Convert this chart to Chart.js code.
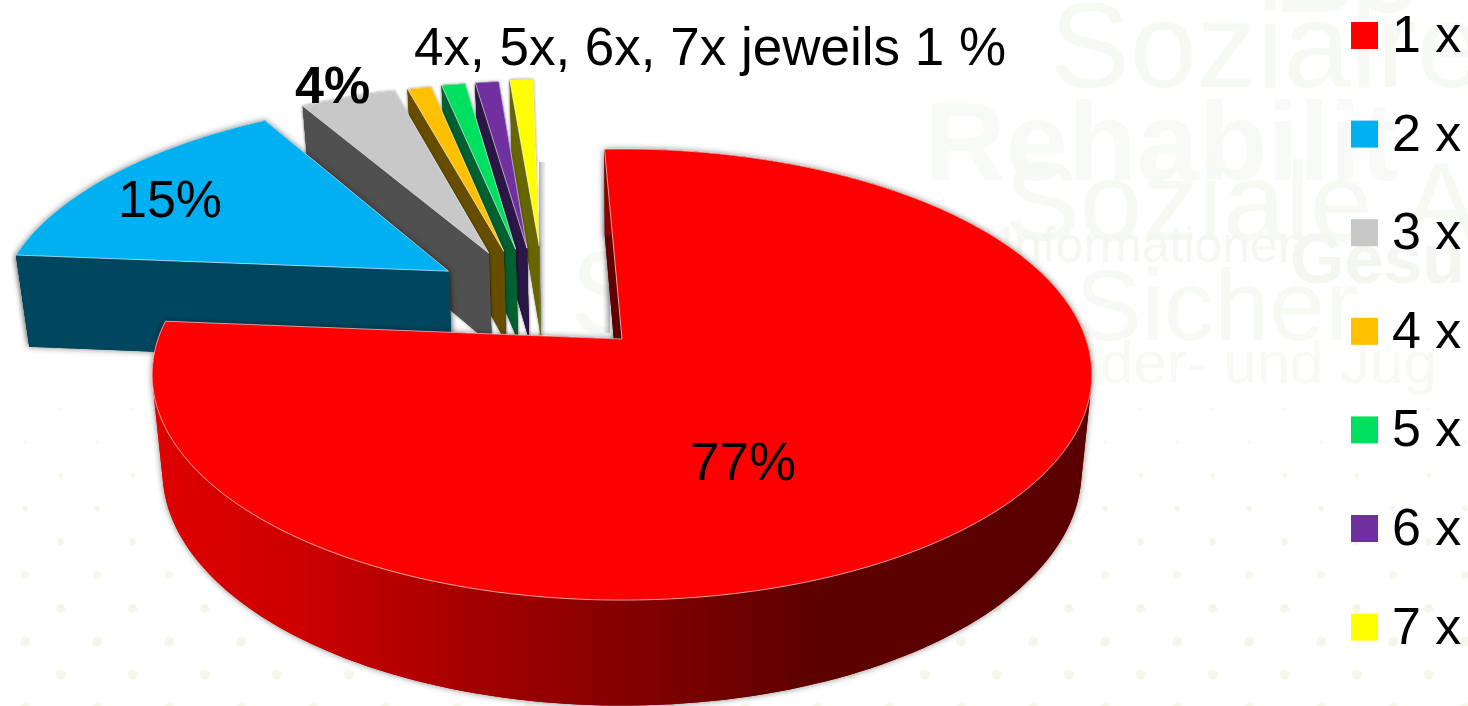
<!DOCTYPE html>
<html>
<head>
<meta charset="utf-8">
<title>Anzahl</title>
<script src="https://cdn.jsdelivr.net/npm/chart.js@4/dist/chart.umd.min.js"></script>
<style>
    html,body{margin:0;padding:0;background:#fff;overflow:hidden;}
    canvas{display:block;}
</style>
</head>
<body>
<canvas id="pieChart" width="1468" height="706"></canvas>
<script>
// Datos
const categories=['1 x','2 x','3 x','4 x','5 x','6 x','7 x'];
const percents=[77,15,4,1,1,1,1];
const note='4x, 5x, 6x, 7x jeweils 1 %';

// Colores de cara superior y pared lateral
const topColors=['#ff0000','#00b0f0','#c8c8c8','#ffc000','#00e060','#7030a0','#ffff00'];
const wallColors=['#600000','#00465f','#505050','#664d00','#00602f','#2a1746','#666600'];

// Geometria de la proyeccion
const CX=622,CY=339,RX=464,RY=220,K=0.1575;
const ROTATION=-2.5;
// Desplazamiento de cada porcion sobre el disco (unidades de radio)
const shifts=[[0,0],[-0.393,-0.324],[-0.306,-0.416],[-0.272,-0.426],[-0.245,-0.4365],[-0.219,-0.4415],[-0.191,-0.452]];

const project=(u,v)=>{
    const d=1-K*v;
    return [CX+RX*u/d,CY+RY*v/d];
};
const extrude=(p)=>[p[0]+(CX-p[0])*0.022,p[1]+95+0.04*(p[1]-CY)];

function addPolygon(ctx,points)
{
    points.forEach((p,i)=>{
        if(i===0) ctx.moveTo(p[0],p[1]);
        else ctx.lineTo(p[0],p[1]);
    });
    ctx.closePath();
}

function tracePath(ctx,points)
{
    ctx.beginPath();
    addPolygon(ctx,points);
}

// Pared exterior como tiras con la misma orientacion, para que el relleno no deje huecos
function traceBand(ctx,outer)
{
    ctx.beginPath();
    for(let i=0;i<outer.length-1;i++)
    {
        const a=outer[i],b=outer[i+1],c=extrude(b),d=extrude(a);
        const area=(b[0]-a[0])*(c[1]-a[1])-(b[1]-a[1])*(c[0]-a[0]);
        addPolygon(ctx,area>0?[a,b,c,d]:[d,c,b,a]);
    }
}

function arcPoints(arc,shift)
{
    const steps=Math.max(6,Math.ceil((arc.endAngle-arc.startAngle)*40));
    const out=[];
    for(let i=0;i<=steps;i++)
    {
        const a=arc.startAngle+(arc.endAngle-arc.startAngle)*i/steps;
        out.push(project(shift[0]+Math.cos(a),shift[1]+Math.sin(a)));
    }
    return out;
}

// Fondo: puntos y texto de marca de agua
function drawBackground(ctx)
{
    ctx.save();
    ctx.fillStyle='#f5f7e8';
    let row=0;
    for(let y=409;y<720;y+=33.2)
    {
        const start=(row%2===0)?60.7:25;
        const r=Math.min(5,1.2+(y-409)*0.016);
        for(let x=start;x<1468;x+=72)
        {
            ctx.beginPath();
            ctx.arc(x,y,r,0,Math.PI*2);
            ctx.fill();
        }
        row++;
    }
    const marks=[
        ['Sozialre','120px',1050,87,'normal','#f6f9f4'],
        ['Be','112px',1275,12,'bold','#f6f9f4'],
        ['Rehabilit','112px',925,180,'bold','#f8faf7'],
        ['Soziale A','112px',1005,240,'normal','#f6f9f4'],
        ['Informationen','50px',1000,262,'normal','#f5f7f3'],
        ['Gesu','70px',1290,283,'bold','#f4f6f2'],
        ['Sicher','100px',1075,340,'normal','#f6f9f4'],
        ['S','120px',570,335,'normal','#f6f9f4'],
        ['der- und Jug','60px',1100,383,'normal','#f6f9f4']
    ];
    ctx.textBaseline='alphabetic';
    marks.forEach(m=>{
        ctx.fillStyle=m[5];
        ctx.font=m[4]+' '+m[1]+' "Liberation Sans"';
        ctx.fillText(m[0],m[2],m[3]);
    });
    ctx.restore();
}

function softEdge(ctx,x,y,w,h,dark)
{
    const g=ctx.createLinearGradient(x,0,x+w,0);
    g.addColorStop(0,dark?'rgba(120,120,120,0)':'rgba(120,120,120,0.55)');
    g.addColorStop(1,dark?'rgba(120,120,120,0.45)':'rgba(120,120,120,0)');
    ctx.fillStyle=g;
    ctx.fillRect(x,y,w,h);
}

function redSideFill(ctx)
{
    const g=ctx.createLinearGradient(150,0,1090,0);
    g.addColorStop(0,'#e00000');
    g.addColorStop(0.16,'#cc0000');
    g.addColorStop(0.36,'#a00000');
    g.addColorStop(0.5,'#860000');
    g.addColorStop(0.7,'#5e0000');
    g.addColorStop(1,'#5a0000');
    return g;
}

function drawSlice(ctx,arc,i)
{
    const shift=shifts[i];
    const outer=arcPoints(arc,shift);
    const tip=project(shift[0],shift[1]);
    const first=outer[0],last=outer[outer.length-1];
    const sideFill=i===0?redSideFill(ctx):wallColors[i];

    const paintWalls=()=>{
        ctx.fillStyle=wallColors[i];
        tracePath(ctx,[tip,first,extrude(first),extrude(tip)]);
        ctx.fill();
        tracePath(ctx,[tip,last,extrude(last),extrude(tip)]);
        ctx.fill();
        ctx.fillStyle=sideFill;
        traceBand(ctx,outer);
        ctx.fill();
    };

    // Primero la silueta con sombra, luego las paredes limpias encima
    ctx.save();
    ctx.shadowColor='rgba(0,0,0,0.5)';
    ctx.shadowBlur=i<2?6:3;
    paintWalls();
    ctx.restore();
    paintWalls();

    // Cara superior
    ctx.fillStyle=topColors[i];
    tracePath(ctx,[tip].concat(outer));
    ctx.fill();
    ctx.strokeStyle='rgba(255,255,255,0.6)';
    ctx.lineWidth=1;
    ctx.stroke();
}

const pie3d={
    id:'pie3d',
    beforeDraw(chart)
    {
        drawBackground(chart.ctx);
    },
    beforeDatasetDraw(chart)
    {
        const ctx=chart.ctx;
        const arcs=chart.getDatasetMeta(0).data;
        // de atras hacia adelante; la porcion grande va al final
        for(let i=arcs.length-1;i>=1;i--)
        {
            drawSlice(ctx,arcs[i],i);
        }
        softEdge(ctx,539,162,7,173,false);
        softEdge(ctx,603,233,7,100,true);
        drawSlice(ctx,arcs[0],0);
        return false;
    },
    afterDraw(chart)
    {
        const ctx=chart.ctx;
        ctx.save();
        ctx.fillStyle='#000';
        ctx.textBaseline='alphabetic';
        ctx.textAlign='left';

        // Etiquetas de valor
        ctx.font='53px "Liberation Sans"';
        ctx.fillText(percents[0]+'%',690,480);
        ctx.font='52px "Liberation Sans"';
        ctx.fillText(percents[1]+'%',118,217);
        ctx.font='bold 52px "Liberation Sans"';
        ctx.fillText(percents[2]+'%',295,103);
        ctx.font='53px "Liberation Sans"';
        ctx.fillText(note,414,65);

        // Leyenda
        ctx.font='52px "Liberation Sans"';
        categories.forEach((c,i)=>{
            const y=22+i*98.6;
            ctx.fillStyle=topColors[i];
            ctx.fillRect(1351,y,27,27);
            ctx.fillStyle='#000';
            ctx.fillText(c,1392,y+30);
        });
        ctx.restore();
    }
};

const chart=new Chart(document.getElementById('pieChart'),{
    type:'pie',
    data:{
        labels:categories,
        datasets:[{
            data:percents,
            backgroundColor:topColors,
            borderWidth:0
        }]
    },
    options:{
        responsive:false,
        animation:false,
        rotation:ROTATION,
        plugins:{
            legend:{display:false},
            tooltip:{enabled:false}
        }
    },
    plugins:[pie3d]
});
</script>
</body>
</html>
